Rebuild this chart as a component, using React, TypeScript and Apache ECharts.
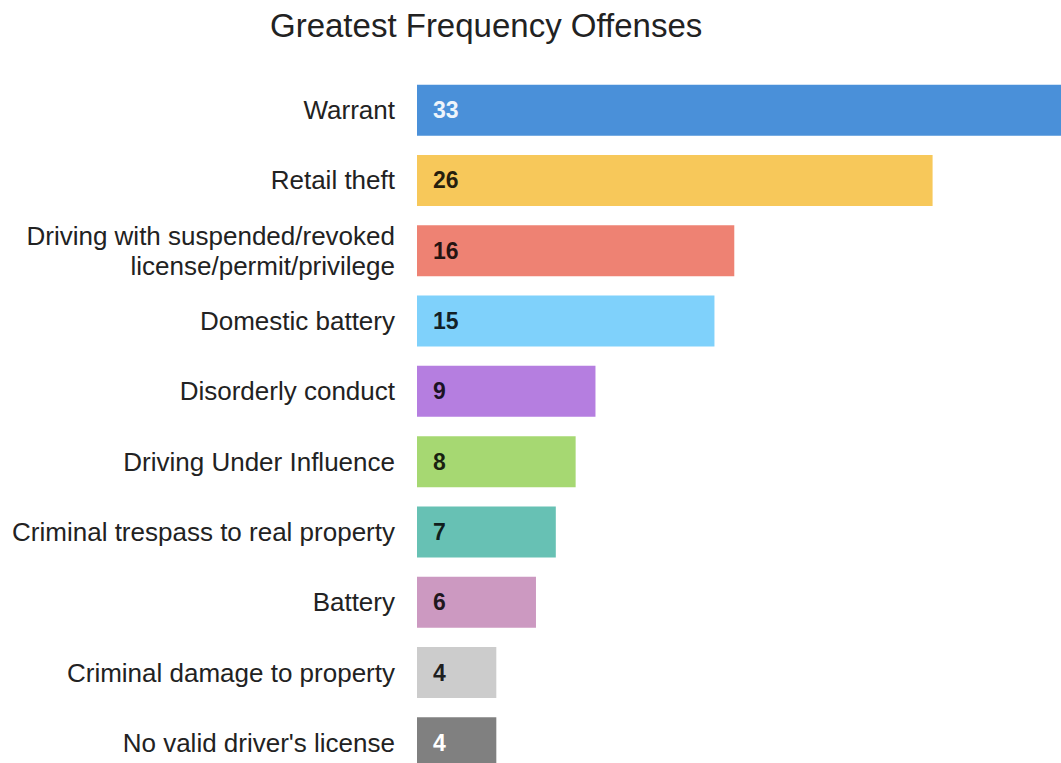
import React, { useEffect, useRef } from "react";
import * as echarts from "echarts";

const categories = [
  "Warrant",
  "Retail theft",
  "Driving with suspended/revoked\nlicense/permit/privilege",
  "Domestic battery",
  "Disorderly conduct",
  "Driving Under Influence",
  "Criminal trespass to real property",
  "Battery",
  "Criminal damage to property",
  "No valid driver's license",
];
const values = [33, 26, 16, 15, 9, 8, 7, 6, 4, 4];
const barColors = [
  "#4a90d9",
  "#f7c85a",
  "#ee8273",
  "#7fd1fb",
  "#b57ee0",
  "#a6d872",
  "#67c1b4",
  "#cc99c1",
  "#cccccc",
  "#808080",
];
const labelColors = [
  "#eef4fb",
  "rgba(0,0,0,0.85)",
  "rgba(0,0,0,0.85)",
  "rgba(0,0,0,0.85)",
  "rgba(0,0,0,0.85)",
  "rgba(0,0,0,0.85)",
  "rgba(0,0,0,0.85)",
  "rgba(0,0,0,0.85)",
  "rgba(0,0,0,0.85)",
  "#ffffff",
];
const titleText = "Greatest Frequency Offenses";

export default function App() {
  const ref = useRef<HTMLDivElement>(null);
  useEffect(() => {
    if (!ref.current) return;
    const chart = echarts.init(ref.current, null, { renderer: "svg" });
    chart.setOption({
      animation: false,
      backgroundColor: "#ffffff",
      title: {
        text: titleText,
        left: 270,
        top: 9,
        padding: 0,
        textStyle: {
          fontFamily: "Liberation Sans, Arial, sans-serif",
          fontSize: 33,
          fontWeight: "normal",
          color: "#222222",
        },
      },
      grid: { left: 417, right: 0.6, top: 75, bottom: 0, containLabel: false },
      xAxis: {
        type: "value",
        min: 0,
        max: 33,
        show: false,
      },
      yAxis: {
        type: "category",
        inverse: true,
        data: categories,
        axisLine: { show: false },
        axisTick: { show: false },
        axisLabel: {
          margin: 22,
          fontFamily: "Liberation Sans, Arial, sans-serif",
          fontSize: 26,
          lineHeight: 30,
          color: "#222222",
          align: "right",
        },
      },
      series: [
        {
          type: "bar",
          barCategoryGap: "27.5%",
          data: values.map((v, i) => ({
            value: v,
            itemStyle: { color: barColors[i] },
            label: { color: labelColors[i] },
          })),
          label: {
            show: true,
            position: "insideLeft",
            distance: 16,
            fontFamily: "Liberation Sans, Arial, sans-serif",
            fontWeight: "bold",
            fontSize: 23,
          },
        },
      ],
    });
    return () => chart.dispose();
  }, []);
  return (
    <div
      ref={ref}
      style={{ position: "fixed", left: 0, top: 0, width: 1072, height: 778 }}
    />
  );
}
